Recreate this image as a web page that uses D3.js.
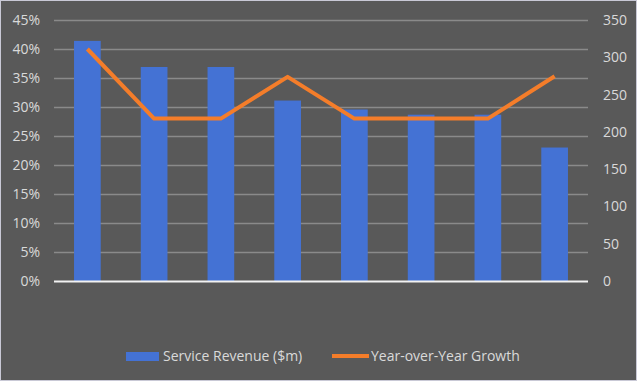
<!DOCTYPE html>
<html>
<head>
<meta charset="utf-8">
<script src="https://cdn.jsdelivr.net/npm/d3@7/dist/d3.min.js"></script>
<style>
html,body{margin:0;padding:0;background:#fff;}
svg{display:block;}
</style>
</head>
<body>
<svg id="chart" width="640" height="383"></svg>
<script>
const categories = ["1","2","3","4","5","6","7","8"];
const serviceRevenue = [322, 287, 287, 242, 230, 223, 223, 179];
const yoyGrowth = [0.40, 0.28, 0.28, 0.352, 0.28, 0.28, 0.28, 0.353];
const leftTicks = [0,0.05,0.10,0.15,0.20,0.25,0.30,0.35,0.40,0.45];
const rightTicks = [0,50,100,150,200,250,300,350];
const seriesNames = ["Service Revenue ($m)", "Year-over-Year Growth"];

const W = 640, H = 383;
const svg = d3.select("#chart");
const font = "'Open Sans', 'Liberation Sans', sans-serif";
const textColor = "#d9d9d9";

svg.append("rect").attr("x",0).attr("y",0).attr("width",W).attr("height",H).attr("fill","#ffffff");
svg.append("rect").attr("x",0.5).attr("y",0.5).attr("width",636).attr("height",380)
  .attr("fill","#595959").attr("stroke","#c9c9d6").attr("stroke-width",1);

const plot = {left:54, right:588, top:20, bottom:281};

const x = d3.scaleBand().domain(categories).range([plot.left, plot.right]).paddingInner(0.6).paddingOuter(0.3);
const yL = d3.scaleLinear().domain([0,0.45]).range([plot.bottom, plot.top]);
const yR = d3.scaleLinear().domain([0,350]).range([plot.bottom, plot.top]);

// gridlines
svg.append("g").selectAll("line").data(leftTicks.filter(d=>d>0)).join("line")
  .attr("x1",plot.left).attr("x2",plot.right)
  .attr("y1",d=>Math.round(yL(d))+0.5).attr("y2",d=>Math.round(yL(d))+0.5)
  .attr("stroke","#8a8a8a").attr("stroke-width",1.5);

// left axis
const axL = d3.axisLeft(yL).tickValues(leftTicks).tickFormat(d=>Math.round(d*100)+"%").tickSize(0).tickPadding(0);
const gL = svg.append("g").attr("transform",`translate(40,0)`).call(axL);
gL.select(".domain").remove();
gL.selectAll("text").attr("fill",textColor).style("font-family",font).style("font-size","14px");

// right axis
const axR = d3.axisRight(yR).tickValues(rightTicks).tickFormat(d3.format("d")).tickSize(0).tickPadding(0);
const gR = svg.append("g").attr("transform",`translate(603,0)`).call(axR);
gR.select(".domain").remove();
gR.selectAll("text").attr("fill",textColor).style("font-family",font).style("font-size","14px");

// bars
svg.append("g").selectAll("rect").data(serviceRevenue).join("rect")
  .attr("x",(d,i)=>x(categories[i]))
  .attr("width",x.bandwidth())
  .attr("y",d=>yR(d))
  .attr("height",d=>yR(0)-yR(d))
  .attr("fill","#4472d4");

// baseline
svg.append("line").attr("x1",plot.left).attr("x2",plot.right)
  .attr("y1",plot.bottom+0.5).attr("y2",plot.bottom+0.5)
  .attr("stroke","#f2f2f2").attr("stroke-width",2);

// line
const line = d3.line().x((d,i)=>x(categories[i])+x.bandwidth()/2).y(d=>yL(d));
svg.append("path").datum(yoyGrowth).attr("d",line)
  .attr("fill","none").attr("stroke","#f47d2a").attr("stroke-width",4).attr("stroke-linejoin","round");

// legend
const lg = svg.append("g");
lg.append("rect").attr("x",126).attr("y",352).attr("width",33).attr("height",9).attr("fill","#4472d4");
lg.append("text").attr("x",163).attr("y",356.5).attr("dy","0.35em").text(seriesNames[0])
  .attr("fill",textColor).style("font-family",font).style("font-size","14px");
lg.append("line").attr("x1",332).attr("x2",369).attr("y1",356).attr("y2",356)
  .attr("stroke","#f47d2a").attr("stroke-width",4);
lg.append("text").attr("x",371).attr("y",356.5).attr("dy","0.35em").text(seriesNames[1])
  .attr("fill",textColor).style("font-family",font).style("font-size","14px");
</script>
</body>
</html>
